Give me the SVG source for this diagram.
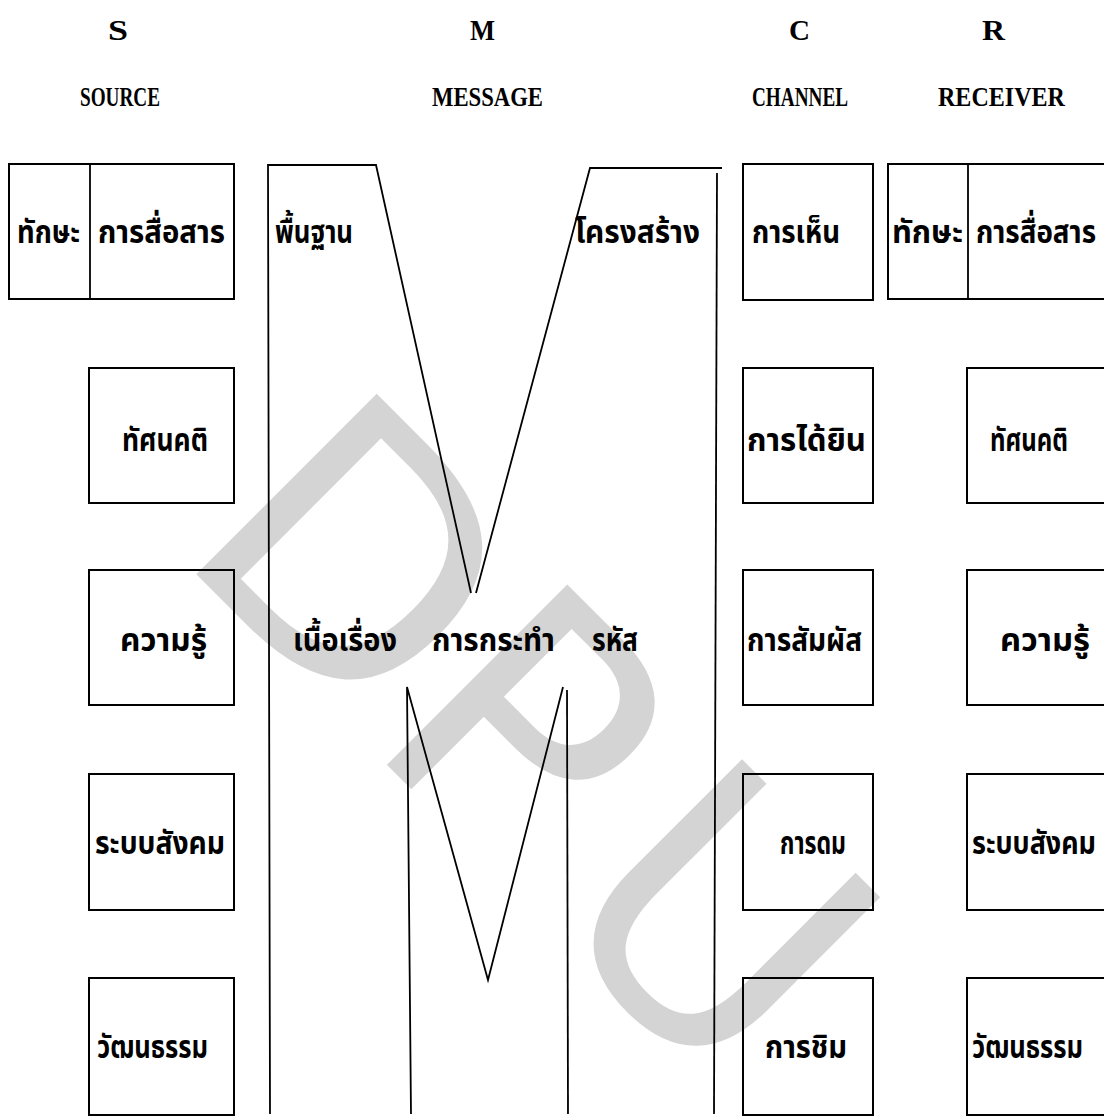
<svg xmlns="http://www.w3.org/2000/svg" width="1104" height="1116" viewBox="0 0 1104 1116">
<style>
.bg{fill:#fff}
.box{fill:none;stroke:#000;stroke-width:2}
.ln{fill:none;stroke:#000;stroke-width:1.8;stroke-linejoin:miter}
.th{font-family:"Noto Sans Thai","Noto Sans Thai Looped","Loma","Garuda","Noto Sans",sans-serif;font-size:32px;font-weight:bold;fill:#000}
.hd{font-family:"Liberation Serif","Times New Roman",serif;font-weight:bold;fill:#000}
.big{font-size:29px}
.sub{font-size:27px}
.wm{font-family:"DejaVu Sans",sans-serif;font-size:350px;fill:#d4d4d4}
</style>
<rect class="bg" x="0" y="0" width="1104" height="1116"/>
<g id="watermark">
<text class="wm" x="172" y="550" transform="rotate(45 172 550)">DP<tspan dx="40">U</tspan></text>
</g>
<g id="headers">
<text class="hd big" x="108" y="40" textLength="20" lengthAdjust="spacingAndGlyphs">S</text>
<text class="hd big" x="470" y="40" textLength="25" lengthAdjust="spacingAndGlyphs">M</text>
<text class="hd big" x="789" y="40" textLength="21" lengthAdjust="spacingAndGlyphs">C</text>
<text class="hd big" x="982" y="40" textLength="23" lengthAdjust="spacingAndGlyphs">R</text>
<text class="hd sub" x="80" y="106" textLength="80" lengthAdjust="spacingAndGlyphs">SOURCE</text>
<text class="hd sub" x="432" y="106" textLength="111" lengthAdjust="spacingAndGlyphs">MESSAGE</text>
<text class="hd sub" x="752" y="106" textLength="96" lengthAdjust="spacingAndGlyphs">CHANNEL</text>
<text class="hd sub" x="938" y="106" textLength="127" lengthAdjust="spacingAndGlyphs">RECEIVER</text>
</g>
<g id="source-skill">
<rect class="box" x="9" y="164" width="225" height="135"/>
<line class="ln" x1="90" y1="164" x2="90" y2="299"/>
<text class="th" x="17" y="243" textLength="63" lengthAdjust="spacingAndGlyphs">ทักษะ</text>
<text class="th" x="98" y="243" textLength="127" lengthAdjust="spacingAndGlyphs">การสื่อสาร</text>
</g>
<g id="source-attitude">
<rect class="box" x="89" y="368" width="145" height="135"/>
<text class="th" x="122" y="451" textLength="86" lengthAdjust="spacingAndGlyphs">ทัศนคติ</text>
</g>
<g id="source-knowledge">
<rect class="box" x="89" y="570" width="145" height="135"/>
<text class="th" x="120" y="651" textLength="87" lengthAdjust="spacingAndGlyphs">ความรู้</text>
</g>
<g id="source-social">
<rect class="box" x="89" y="774" width="145" height="136"/>
<text class="th" x="95" y="854" textLength="130" lengthAdjust="spacingAndGlyphs">ระบบสังคม</text>
</g>
<g id="source-culture">
<rect class="box" x="89" y="978" width="145" height="137"/>
<text class="th" x="97" y="1058" textLength="111" lengthAdjust="spacingAndGlyphs">วัฒนธรรม</text>
</g>
<g id="message">
<g id="m-lines">
<polyline class="ln" points="270,1114 268,165 376,165 471,593"/>
<polyline class="ln" points="476,593 590,168 722,168"/>
<line class="ln" x1="717" y1="173" x2="714" y2="1114"/>
<polyline class="ln" points="411,1114 407,687 488,980 563,687"/>
<line class="ln" x1="567" y1="690" x2="568" y2="1114"/>
</g>
<text class="th" x="275" y="243" textLength="78" lengthAdjust="spacingAndGlyphs">พื้นฐาน</text>
<text class="th" x="575" y="243" textLength="125" lengthAdjust="spacingAndGlyphs">โครงสร้าง</text>
<text class="th" x="293" y="651" textLength="104" lengthAdjust="spacingAndGlyphs">เนื้อเรื่อง</text>
<text class="th" x="432" y="651" textLength="123" lengthAdjust="spacingAndGlyphs">การกระทำ</text>
<text class="th" x="592" y="651" textLength="46" lengthAdjust="spacingAndGlyphs">รหัส</text>
</g>
<g id="channel-see">
<rect class="box" x="743" y="164" width="130" height="136"/>
<text class="th" x="752" y="243" textLength="88" lengthAdjust="spacingAndGlyphs">การเห็น</text>
</g>
<g id="channel-hear">
<rect class="box" x="743" y="368" width="130" height="135"/>
<text class="th" x="747" y="451" textLength="119" lengthAdjust="spacingAndGlyphs">การได้ยิน</text>
</g>
<g id="channel-touch">
<rect class="box" x="743" y="570" width="130" height="135"/>
<text class="th" x="747" y="651" textLength="115" lengthAdjust="spacingAndGlyphs">การสัมผัส</text>
</g>
<g id="channel-smell">
<rect class="box" x="743" y="774" width="130" height="136"/>
<text class="th" x="780" y="854" textLength="66" lengthAdjust="spacingAndGlyphs">การดม</text>
</g>
<g id="channel-taste">
<rect class="box" x="743" y="978" width="130" height="137"/>
<text class="th" x="765" y="1058" textLength="82" lengthAdjust="spacingAndGlyphs">การชิม</text>
</g>
<g id="receiver-skill">
<rect class="box" x="888" y="164" width="230" height="135"/>
<line class="ln" x1="968" y1="164" x2="968" y2="299"/>
<text class="th" x="892" y="243" textLength="71" lengthAdjust="spacingAndGlyphs">ทักษะ</text>
<text class="th" x="976" y="243" textLength="120" lengthAdjust="spacingAndGlyphs">การสื่อสาร</text>
</g>
<g id="receiver-attitude">
<rect class="box" x="967" y="368" width="150" height="135"/>
<text class="th" x="990" y="451" textLength="78" lengthAdjust="spacingAndGlyphs">ทัศนคติ</text>
</g>
<g id="receiver-knowledge">
<rect class="box" x="967" y="570" width="150" height="135"/>
<text class="th" x="1000" y="651" textLength="90" lengthAdjust="spacingAndGlyphs">ความรู้</text>
</g>
<g id="receiver-social">
<rect class="box" x="967" y="774" width="150" height="136"/>
<text class="th" x="972" y="854" textLength="124" lengthAdjust="spacingAndGlyphs">ระบบสังคม</text>
</g>
<g id="receiver-culture">
<rect class="box" x="967" y="978" width="150" height="137"/>
<text class="th" x="972" y="1058" textLength="111" lengthAdjust="spacingAndGlyphs">วัฒนธรรม</text>
</g>
</svg>
